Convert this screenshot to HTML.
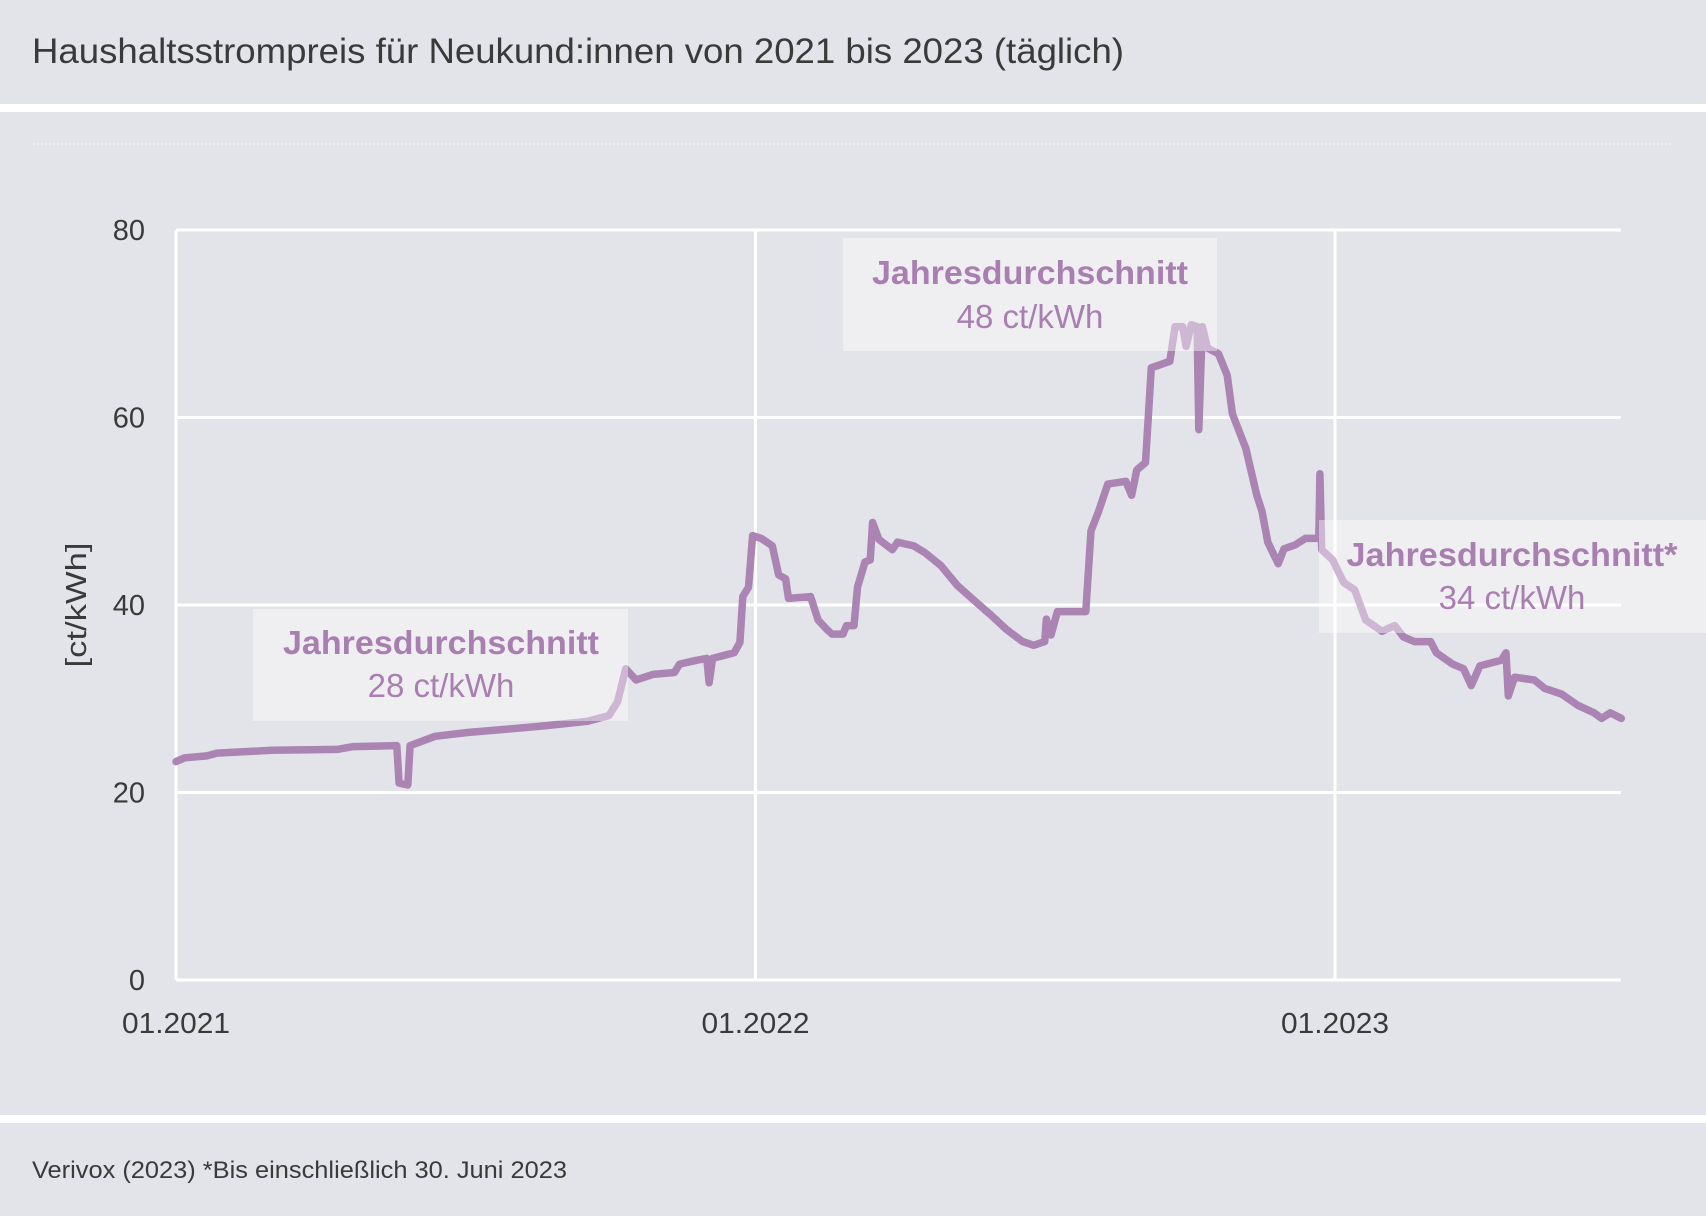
<!DOCTYPE html>
<html><head><meta charset="utf-8"><style>
html,body{margin:0;padding:0;background:#e3e4e9;}
svg{display:block;}
</style></head><body>
<svg id="chart" width="1706" height="1216" viewBox="0 0 1706 1216" xmlns="http://www.w3.org/2000/svg">
<rect x="0" y="0" width="1706" height="1216" fill="#e3e4e9"/>
<rect x="0" y="104" width="1706" height="8" fill="#ffffff"/>
<rect x="0" y="1115" width="1706" height="8" fill="#ffffff"/>
<line x1="33" y1="144" x2="1670" y2="144" stroke="#f1f1f4" stroke-width="1.5" stroke-dasharray="2 2"/>
<text x="32" y="63" font-family="Liberation Sans, sans-serif" font-size="35" fill="#3a3a3a" textLength="1092" lengthAdjust="spacingAndGlyphs">Haushaltsstrompreis für Neukund:innen von 2021 bis 2023 (täglich)</text>
<text x="32" y="1178" font-family="Liberation Sans, sans-serif" font-size="24" fill="#3a3a3a" textLength="535" lengthAdjust="spacingAndGlyphs">Verivox (2023) *Bis einschließlich 30. Juni 2023</text>
<text transform="translate(86,605) rotate(-90)" text-anchor="middle" font-family="Liberation Sans, sans-serif" font-size="29" fill="#3a3a3a" textLength="125" lengthAdjust="spacingAndGlyphs">[ct/kWh]</text>
<g id="grid"></g>
<g id="series"></g>
<g id="annotations"></g>
</svg>
<script>
const yTicks = [0, 20, 40, 60, 80];
const xTickYears = [0, 1, 2];
const xTickLabels = ["01.2021", "01.2022", "01.2023"];
// time in years since 01.2021
const dates = [0,0.015,0.053,0.071,0.165,0.278,0.306,0.381,0.385,0.4,0.404,0.447,0.503,0.578,0.635,0.71,0.747,0.762,0.776,0.794,0.823,0.86,0.869,0.898,0.916,0.92,0.926,0.963,0.973,0.978,0.988,0.995,1.01,1.029,1.04,1.052,1.057,1.095,1.108,1.123,1.132,1.151,1.157,1.17,1.176,1.189,1.198,1.202,1.213,1.236,1.245,1.273,1.292,1.32,1.348,1.377,1.405,1.433,1.461,1.48,1.499,1.502,1.51,1.521,1.57,1.579,1.592,1.608,1.639,1.649,1.658,1.673,1.683,1.715,1.724,1.737,1.743,1.752,1.762,1.765,1.771,1.78,1.799,1.814,1.823,1.846,1.865,1.874,1.884,1.902,1.912,1.931,1.949,1.972,1.974,1.977,1.996,2.015,2.034,2.053,2.081,2.103,2.118,2.137,2.165,2.175,2.203,2.222,2.235,2.25,2.287,2.295,2.299,2.31,2.344,2.362,2.391,2.419,2.447,2.46,2.475,2.494];
const prices = [23.3,23.7,23.9,24.2,24.5,24.6,24.9,25,21,20.8,25,26,26.4,26.8,27.1,27.6,28.2,29.7,33.2,32,32.6,32.8,33.7,34.1,34.3,31.7,34.3,34.9,36,40.9,41.9,47.4,47.1,46.3,43.2,42.8,40.7,40.9,38.4,37.4,36.9,36.9,37.8,37.8,41.9,44.6,44.8,48.8,47,45.9,46.7,46.3,45.6,44.2,42.1,40.5,39,37.4,36.1,35.7,36.1,38.5,36.8,39.3,39.3,47.9,50,52.9,53.2,51.7,54.4,55.2,65.3,66,69.7,69.7,67.6,69.9,69.7,58.7,69.7,67.4,66.8,64.5,60.4,56.7,51.7,50,46.7,44.4,46,46.4,47.1,47.1,54,45.9,44.8,42.4,41.6,38.4,37.2,37.8,36.6,36.1,36.1,34.9,33.7,33.2,31.4,33.5,34.1,34.9,30.3,32.3,32,31.1,30.5,29.3,28.5,27.9,28.5,27.9];
const annoTitles = ["Jahresdurchschnitt", "Jahresdurchschnitt", "Jahresdurchschnitt*"];
const annoValues = ["28 ct/kWh", "48 ct/kWh", "34 ct/kWh"];

const NS = "http://www.w3.org/2000/svg";
const X0 = 176, X1 = 1621, YEAR = 579.5, Y0 = 980, Y80 = 230;
const xs = t => X0 + t * YEAR;
const ys = v => Y0 - (v / 80) * (Y0 - Y80);
function mk(tag, attrs, parent) { const e = document.createElementNS(NS, tag); for (const k in attrs) e.setAttribute(k, attrs[k]); parent.appendChild(e); return e; }
const grid = document.getElementById("grid");
yTicks.forEach(v => {
  const l = mk("line", {x1: X0, x2: X1, y1: ys(v), y2: ys(v), stroke: "#ffffff", "stroke-width": 3}, grid);
  
  
  const t = mk("text", {x: 145, y: ys(v) + 10, "text-anchor": "end", "font-family": "Liberation Sans, sans-serif", "font-size": 29, fill: "#3a3a3a"}, grid);
  t.textContent = v;
  
  
});
xTickYears.forEach((yv, i) => {
  const l = mk("line", {x1: xs(yv), x2: xs(yv), y1: Y80, y2: Y0, stroke: "#ffffff", "stroke-width": 3}, grid);
  
  
  const t = mk("text", {x: xs(yv), y: 1033, "text-anchor": "middle", "font-family": "Liberation Sans, sans-serif", "font-size": 29, fill: "#3a3a3a", textLength: 108, lengthAdjust: "spacingAndGlyphs"}, grid);
  t.textContent = xTickLabels[i];
  
  
});
const series = document.getElementById("series");
const d = dates.map((t, i) => (i ? "L" : "M") + xs(t).toFixed(1) + " " + ys(prices[i]).toFixed(1)).join(" ");
const path = mk("path", {d: d, fill: "none", stroke: "#ab84b3", "stroke-width": 7.5, "stroke-linejoin": "round", "stroke-linecap": "round"}, series);


const boxes = [[253, 609, 375, 112, 441, 654, 697, 316], [843, 238, 374, 113, 1030, 284, 328, 316], [1319, 520, 387, 113, 1512, 566, 609, 331]];
const ann = document.getElementById("annotations");
boxes.forEach((b, i) => {
  const g = mk("g", {}, ann);
  
  
  mk("rect", {x: b[0], y: b[1], width: b[2], height: b[3], fill: "#ffffff", "fill-opacity": 0.42}, g);
  const t1 = mk("text", {x: b[4], y: b[5], "text-anchor": "middle", "font-family": "Liberation Sans, sans-serif", "font-size": 33, "font-weight": "bold", fill: "#a97fb1", textLength: b[7], lengthAdjust: "spacingAndGlyphs"}, g);
  t1.textContent = annoTitles[i];
  
  
  const t2 = mk("text", {x: b[4], y: b[6], "text-anchor": "middle", "font-family": "Liberation Sans, sans-serif", "font-size": 33, fill: "#a97fb1"}, g);
  t2.textContent = annoValues[i];
  
  
});
</script>
</body></html>
